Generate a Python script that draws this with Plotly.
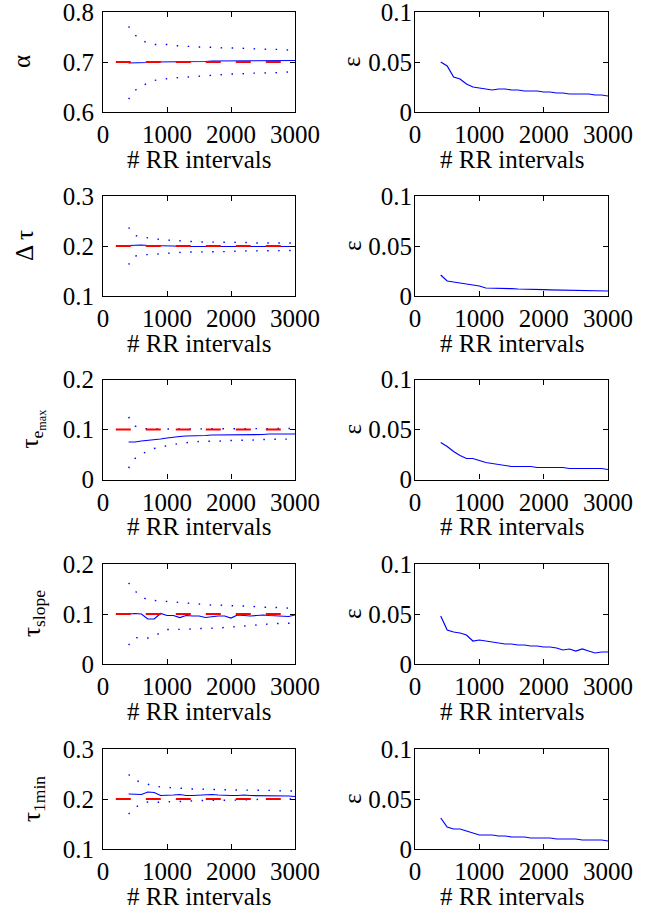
import plotly.graph_objects as go

# ---------------- data ----------------
n_rr = [400, 500, 600, 700, 800, 900, 1000, 1100, 1200, 1300, 1400, 1500, 1600, 1700,
        1800, 1900, 2000, 2100, 2200, 2300, 2400, 2500, 2600, 2700, 2800, 2900, 3000]
true_x = [200, 3000]

alpha_true = 0.7
alpha_mean = [0.698, 0.698, 0.699, 0.699, 0.700, 0.700, 0.701, 0.701, 0.701, 0.701, 0.701, 0.701, 0.701, 0.702,
              0.702, 0.702, 0.702, 0.702, 0.702, 0.702, 0.702, 0.702, 0.703, 0.703, 0.703, 0.703, 0.703]
alpha_up = [0.771, 0.754, 0.744, 0.738, 0.735, 0.735, 0.735, 0.733, 0.732, 0.731, 0.731, 0.730, 0.730, 0.729,
            0.729, 0.728, 0.728, 0.728, 0.727, 0.727, 0.726, 0.726, 0.725, 0.725, 0.725, 0.724, 0.724]
alpha_lo = [0.626, 0.643, 0.652, 0.658, 0.663, 0.665, 0.667, 0.668, 0.669, 0.670, 0.670, 0.671, 0.672, 0.673,
            0.674, 0.675, 0.676, 0.676, 0.677, 0.677, 0.678, 0.678, 0.678, 0.679, 0.679, 0.680, 0.680]
alpha_eps = [0.050, 0.046, 0.035, 0.033, 0.028, 0.025, 0.024, 0.023, 0.022, 0.023, 0.023, 0.022, 0.022, 0.021,
             0.021, 0.021, 0.020, 0.020, 0.019, 0.019, 0.018, 0.018, 0.018, 0.018, 0.017, 0.017, 0.016]

dtau_true = 0.2
dtau_mean = [0.201, 0.202, 0.202, 0.201, 0.201, 0.200, 0.200, 0.200, 0.199, 0.199, 0.199, 0.199, 0.199, 0.199,
             0.199, 0.199, 0.199, 0.199, 0.199, 0.199, 0.199, 0.199, 0.199, 0.199, 0.199, 0.199, 0.199]
dtau_up = [0.237, 0.221, 0.218, 0.216, 0.215, 0.213, 0.212, 0.211, 0.210, 0.209, 0.209, 0.208, 0.208, 0.208,
           0.207, 0.207, 0.207, 0.207, 0.207, 0.207, 0.206, 0.206, 0.206, 0.206, 0.206, 0.206, 0.206]
dtau_lo = [0.163, 0.180, 0.182, 0.183, 0.184, 0.185, 0.186, 0.187, 0.187, 0.188, 0.188, 0.188, 0.188, 0.189,
           0.189, 0.189, 0.189, 0.190, 0.190, 0.190, 0.190, 0.190, 0.191, 0.191, 0.191, 0.191, 0.191]
dtau_eps = [0.021, 0.015, 0.014, 0.013, 0.012, 0.011, 0.010, 0.008, 0.008, 0.008, 0.0075, 0.0073, 0.007, 0.007,
            0.0068, 0.0066, 0.0064, 0.0062, 0.006, 0.0058, 0.0056, 0.0055, 0.0055, 0.0056, 0.0054, 0.0052, 0.005]

temax_true = 0.1
temax_mean = [0.075, 0.075, 0.077, 0.078, 0.080, 0.081, 0.083, 0.085, 0.086, 0.087, 0.087, 0.088, 0.088, 0.089,
              0.089, 0.089, 0.089, 0.089, 0.090, 0.090, 0.090, 0.090, 0.091, 0.091, 0.091, 0.091, 0.091]
temax_up = [0.125, 0.107, 0.102, 0.101, 0.101, 0.101, 0.101, 0.101, 0.101, 0.101, 0.101, 0.101, 0.101, 0.101,
            0.101, 0.101, 0.101, 0.101, 0.102, 0.102, 0.102, 0.102, 0.102, 0.102, 0.102, 0.102, 0.102]
temax_lo = [0.023, 0.042, 0.051, 0.057, 0.062, 0.065, 0.068, 0.070, 0.072, 0.074, 0.075, 0.076, 0.076, 0.077,
            0.077, 0.077, 0.078, 0.078, 0.078, 0.079, 0.079, 0.080, 0.080, 0.080, 0.081, 0.081, 0.081]
temax_eps = [0.037, 0.033, 0.028, 0.024, 0.021, 0.021, 0.019, 0.017, 0.016, 0.015, 0.014, 0.013, 0.013, 0.013,
             0.013, 0.012, 0.012, 0.012, 0.012, 0.012, 0.011, 0.011, 0.011, 0.011, 0.011, 0.011, 0.010]

tslope_true = 0.1
tslope_mean = [0.100, 0.101, 0.100, 0.090, 0.090, 0.101, 0.097, 0.097, 0.093, 0.097, 0.096, 0.096, 0.093, 0.095,
               0.096, 0.096, 0.092, 0.098, 0.097, 0.096, 0.097, 0.098, 0.097, 0.096, 0.096, 0.095, 0.098]
tslope_up = [0.162, 0.146, 0.135, 0.128, 0.127, 0.126, 0.125, 0.123, 0.122, 0.121, 0.120, 0.120, 0.119, 0.118,
             0.118, 0.117, 0.117, 0.116, 0.116, 0.115, 0.114, 0.114, 0.113, 0.113, 0.112, 0.112, 0.111]
tslope_lo = [0.038, 0.053, 0.052, 0.052, 0.056, 0.063, 0.069, 0.069, 0.069, 0.070, 0.070, 0.071, 0.071, 0.072,
             0.072, 0.073, 0.074, 0.076, 0.077, 0.077, 0.078, 0.079, 0.080, 0.081, 0.081, 0.082, 0.082]
tslope_eps = [0.048, 0.034, 0.032, 0.031, 0.029, 0.023, 0.024, 0.023, 0.022, 0.021, 0.020, 0.020, 0.019, 0.019,
              0.018, 0.018, 0.017, 0.017, 0.016, 0.014, 0.015, 0.013, 0.015, 0.013, 0.011, 0.012, 0.012]

t1min_true = 0.2
t1min_mean = [0.210, 0.210, 0.209, 0.214, 0.213, 0.207, 0.207, 0.208, 0.209, 0.207, 0.207, 0.208, 0.208, 0.209,
              0.208, 0.207, 0.207, 0.207, 0.208, 0.207, 0.207, 0.207, 0.207, 0.207, 0.207, 0.206, 0.205]
t1min_up = [0.249, 0.238, 0.233, 0.229, 0.226, 0.224, 0.223, 0.222, 0.221, 0.221, 0.220, 0.220, 0.219, 0.219,
            0.219, 0.218, 0.218, 0.218, 0.218, 0.217, 0.217, 0.217, 0.217, 0.217, 0.216, 0.216, 0.216]
t1min_lo = [0.170, 0.183, 0.190, 0.194, 0.193, 0.194, 0.194, 0.195, 0.195, 0.196, 0.196, 0.197, 0.197, 0.197,
            0.198, 0.198, 0.198, 0.198, 0.198, 0.199, 0.199, 0.199, 0.199, 0.199, 0.199, 0.200, 0.200]
t1min_eps = [0.031, 0.022, 0.020, 0.020, 0.018, 0.016, 0.014, 0.014, 0.014, 0.013, 0.013, 0.012, 0.012, 0.012,
             0.011, 0.011, 0.011, 0.011, 0.010, 0.010, 0.010, 0.010, 0.009, 0.009, 0.009, 0.009, 0.008]

x_ticks = [0, 1000, 2000, 3000]
x_title = "# RR intervals"
eps_title = "ε"
eps_ticks = [0, 0.05, 0.1]
eps_ticktext = ["0", "0.05", "0.1"]

params = [
    ("α", alpha_true, alpha_mean, alpha_up, alpha_lo, alpha_eps, [0.6, 0.8], [0.6, 0.7, 0.8], ["0.6", "0.7", "0.8"]),
    ("Δ τ", dtau_true, dtau_mean, dtau_up, dtau_lo, dtau_eps, [0.1, 0.3], [0.1, 0.2, 0.3], ["0.1", "0.2", "0.3"]),
    ("τ<sub>e<sub>max</sub></sub>", temax_true, temax_mean, temax_up, temax_lo, temax_eps, [0, 0.2], [0, 0.1, 0.2], ["0", "0.1", "0.2"]),
    ("τ<sub>slope</sub>", tslope_true, tslope_mean, tslope_up, tslope_lo, tslope_eps, [0, 0.2], [0, 0.1, 0.2], ["0", "0.1", "0.2"]),
    ("τ<sub>1min</sub>", t1min_true, t1min_mean, t1min_up, t1min_lo, t1min_eps, [0.1, 0.3], [0.1, 0.2, 0.3], ["0.1", "0.2", "0.3"]),
]

# ---------------- layout ----------------
W, H = 652, 916
FONT = "Liberation Serif, Times New Roman, Times, serif"
FS = 25
BLUE = "#0000ff"
RED = "#ff0000"
left_px = (103, 295)
right_px = (415, 608)
row_tops = [12, 196, 379.5, 564, 749]
row_h = 100
ytitle_x = [22, 24, 32, 33, 33]
eps_x = 352

fig = go.Figure()
layout = dict(
    template="none",
    width=W, height=H, margin=dict(l=0, r=0, t=0, b=0, pad=0), autosize=False,
    paper_bgcolor="white", plot_bgcolor="white", showlegend=False,
    font=dict(family=FONT, size=FS, color="black"),
)
annotations = []

def axis_common():
    return dict(showgrid=False, zeroline=False, showline=True, linecolor="black", linewidth=1.2,
                mirror="ticks", ticks="inside", ticklen=5, tickwidth=1, tickcolor="black",
                automargin=False, ticklabeloverflow="allow",
                tickfont=dict(family=FONT, size=FS, color="black"))

for i, (name, true_v, mean_v, up_v, lo_v, eps_v, yr, yt, ytt) in enumerate(params):
    top = row_tops[i]
    yd = [1 - (top + row_h) / H, 1 - top / H]
    for j, (px, kind) in enumerate([(left_px, "L"), (right_px, "R")]):
        idx = 2 * i + j + 1
        xa = "xaxis" if idx == 1 else f"xaxis{idx}"
        ya = "yaxis" if idx == 1 else f"yaxis{idx}"
        xr = "x" if idx == 1 else f"x{idx}"
        yr_ = "y" if idx == 1 else f"y{idx}"
        xax = axis_common()
        xax.update(domain=[px[0] / W, px[1] / W], range=[0, 3000], tickvals=x_ticks,
                   ticktext=[str(v) for v in x_ticks], anchor=yr_, ticklabelstandoff=0)
        yax = axis_common()
        if kind == "L":
            yax.update(domain=yd, range=yr, tickvals=yt, ticktext=ytt, anchor=xr, ticklabelstandoff=3)
        else:
            yax.update(domain=yd, range=[0, 0.1], tickvals=eps_ticks, ticktext=eps_ticktext, anchor=xr,
                       ticklabelstandoff=-3)
        layout[xa] = xax
        layout[ya] = yax

        if kind == "L":
            fig.add_trace(go.Scatter(x=n_rr, y=up_v, mode="lines", xaxis=xr, yaxis=yr_,
                                     line=dict(color=BLUE, width=1.4, dash="1.5px,9.5px")))
            fig.add_trace(go.Scatter(x=n_rr, y=lo_v, mode="lines", xaxis=xr, yaxis=yr_,
                                     line=dict(color=BLUE, width=1.4, dash="1.5px,9.5px")))
            fig.add_trace(go.Scatter(x=n_rr, y=mean_v, mode="lines", xaxis=xr, yaxis=yr_,
                                     line=dict(color=BLUE, width=1.2)))
            fig.add_trace(go.Scatter(x=true_x, y=[true_v, true_v], mode="lines", xaxis=xr, yaxis=yr_,
                                     line=dict(color=RED, width=1.8, dash="15px,15px")))
            annotations.append(dict(text=name, textangle=-90, xref="paper", yref="paper",
                                    x=ytitle_x[i] / W, y=1 - (top + row_h / 2) / H,
                                    xanchor="center", yanchor="middle", showarrow=False,
                                    font=dict(family=FONT, size=FS, color="black")))
        else:
            fig.add_trace(go.Scatter(x=n_rr, y=eps_v, mode="lines", xaxis=xr, yaxis=yr_,
                                     line=dict(color=BLUE, width=1.2)))
            annotations.append(dict(text=eps_title, textangle=-90, xref="paper", yref="paper",
                                    x=eps_x / W, y=1 - (top + row_h / 2) / H,
                                    xanchor="center", yanchor="middle", showarrow=False,
                                    font=dict(family=FONT, size=FS, color="black")))
        annotations.append(dict(text=x_title, xref="paper", yref="paper",
                                x=(px[0] + px[1]) / 2 / W, y=1 - (top + row_h + 47) / H,
                                xanchor="center", yanchor="middle", showarrow=False,
                                font=dict(family=FONT, size=FS, color="black")))

layout["annotations"] = annotations
fig.update_layout(**layout)
fig.write_html(
    "out.html",
    config={"displayModeBar": False},
    post_script="document.body.style.margin='0';document.body.style.padding='0';"
                "document.body.style.overflow='hidden';",
)
